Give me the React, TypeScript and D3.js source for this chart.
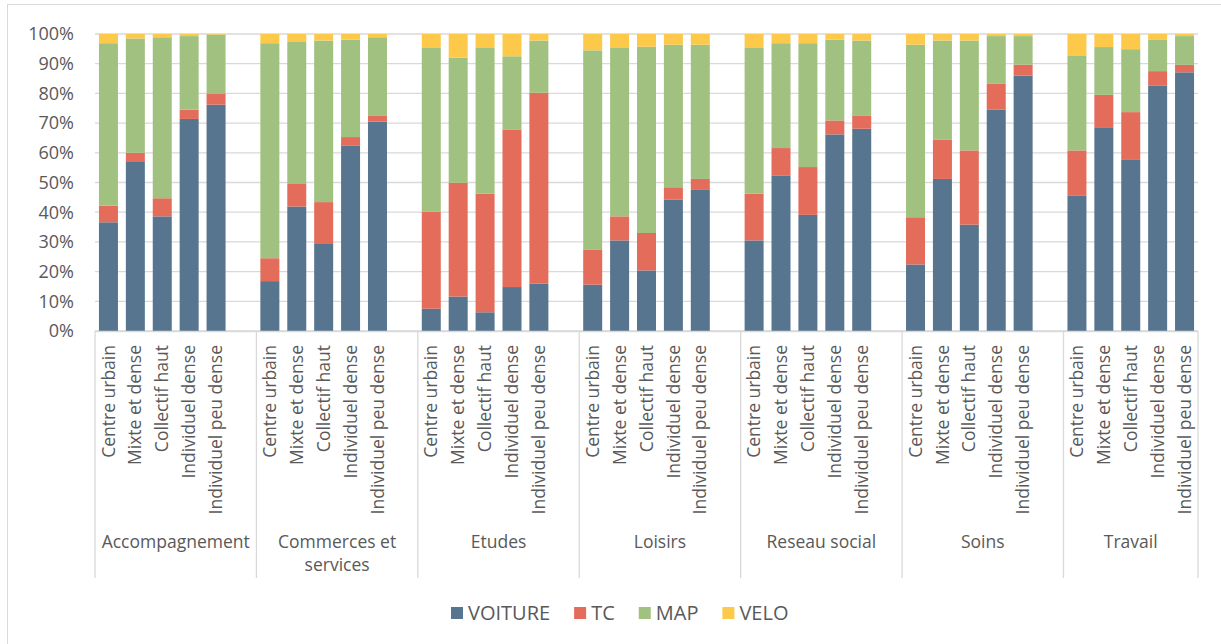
import React, { useEffect, useRef } from 'react';
import * as d3 from 'd3';

// motifs de déplacement (groupes) et types de tissu urbain
const groups = ['Accompagnement', 'Commerces et services', 'Etudes', 'Loisirs', 'Reseau social', 'Soins', 'Travail'];
const subcats = ['Centre urbain', 'Mixte et dense', 'Collectif haut', 'Individuel dense', 'Individuel peu dense'];
const seriesNames = ['VOITURE', 'TC', 'MAP', 'VELO'];
const yTicks = [0, 10, 20, 30, 40, 50, 60, 70, 80, 90, 100];

// parts modales en %, dans l'ordre groupe x sous-catégorie
const voiture = [36.6, 56.9, 38.6, 71.4, 76.2, 16.8, 41.9, 29.3, 62.5, 70.5, 7.5, 11.6, 6.3, 14.8, 16.0, 15.6, 30.5, 20.4, 44.3, 47.5, 30.5, 52.4, 39.1, 66.2, 68.1, 22.4, 51.2, 35.8, 74.6, 86.0, 45.5, 68.6, 57.6, 82.7, 87.1];
const tc = [5.6, 3.1, 6.1, 3.1, 3.6, 7.7, 7.6, 14.1, 2.8, 2.1, 32.7, 38.3, 39.9, 52.9, 64.2, 11.7, 8.1, 12.6, 4.1, 3.7, 15.7, 9.2, 16.1, 4.7, 4.5, 15.9, 13.3, 25.0, 8.6, 3.7, 15.3, 10.9, 16.1, 4.8, 2.5];
const map = [54.7, 38.5, 54.2, 24.8, 20.0, 72.4, 47.8, 54.4, 32.8, 26.3, 55.1, 42.1, 49.1, 24.8, 17.6, 67.2, 56.7, 62.7, 48.0, 45.2, 49.1, 35.3, 41.7, 27.2, 25.2, 58.1, 33.3, 37.0, 16.1, 9.6, 32.0, 16.1, 21.2, 10.5, 9.7];
const velo = [3.1, 1.5, 1.1, 0.7, 0.2, 3.1, 2.7, 2.2, 1.9, 1.1, 4.7, 8.0, 4.7, 7.5, 2.2, 5.5, 4.7, 4.3, 3.6, 3.6, 4.7, 3.1, 3.1, 1.9, 2.2, 3.6, 2.2, 2.2, 0.7, 0.7, 7.2, 4.4, 5.1, 2.0, 0.7];

const colors = ['#57758f', '#e36c5b', '#a1c180', '#fdc94b'];
const FONT = '"Open Sans", "Noto Sans", sans-serif';
const TXT = '#595959';
const GRID = '#d9d9d9';

interface Row {
  key: string;
  group: string;
  sub: string;
  VOITURE: number;
  TC: number;
  MAP: number;
  VELO: number;
}

const App: React.FC = () => {
  const ref = useRef<SVGSVGElement>(null);

  useEffect(() => {
    document.body.style.margin = '0';
    const svg = d3.select(ref.current);
    svg.selectAll('*').remove();

    const width = 1221;
    const height = 644;
    const left = 95, right = 1198, top = 34, bottom = 331;

    // slots: 5 barres par groupe + une case vide entre les groupes
    const rows: Row[] = [];
    const slots: string[] = [];
    groups.forEach((g, gi) => {
      subcats.forEach((s, si) => {
        const i = gi * subcats.length + si;
        const key = `${g}|${s}`;
        rows.push({ key, group: g, sub: s, VOITURE: voiture[i], TC: tc[i], MAP: map[i], VELO: velo[i] });
        slots.push(key);
      });
      if (gi < groups.length - 1) slots.push(`blank${gi}`);
    });

    const x = d3.scaleBand().domain(slots).range([left, right]).paddingInner(0.294).paddingOuter(0.147);
    const y = d3.scaleLinear().domain([0, 100]).range([bottom, top]);
    const step = x.step();
    const slotStart = (k: string) => (x(k) as number) - (step * x.paddingInner()) / 2;

    svg.append('rect').attr('width', width).attr('height', height).attr('fill', 'white');
    // cadre du graphique
    svg.append('rect').attr('x', 7.5).attr('y', 4.5).attr('width', width + 20).attr('height', height + 20)
      .attr('fill', 'none').attr('stroke', GRID).attr('stroke-width', 1);

    // grille
    svg.append('g').selectAll('line').data(yTicks).enter().append('line')
      .attr('x1', left).attr('x2', right)
      .attr('y1', d => y(d)).attr('y2', d => y(d))
      .attr('stroke', GRID).attr('stroke-width', 1.3);

    svg.append('g').selectAll('text').data(yTicks).enter().append('text')
      .attr('x', 74).attr('y', d => y(d)).attr('dy', '0.35em')
      .attr('text-anchor', 'end').attr('font-family', FONT).attr('font-size', 18).attr('fill', TXT)
      .text(d => `${d}%`);

    // barres empilées
    const stack = d3.stack<Row>().keys(seriesNames);
    const layers = stack(rows);
    svg.append('g').selectAll('g').data(layers).enter().append('g')
      .attr('fill', (_, i) => colors[i])
      .selectAll('rect').data(d => d).enter().append('rect')
      .attr('x', d => x(d.data.key) as number)
      .attr('width', x.bandwidth())
      .attr('y', d => y(d[1]))
      .attr('height', d => y(d[0]) - y(d[1]));

    // axe des catégories
    const axisBottom = 578;
    svg.append('line').attr('x1', left).attr('x2', right).attr('y1', bottom + 0.5).attr('y2', bottom + 0.5)
      .attr('stroke', GRID).attr('stroke-width', 1.3);

    const groupBounds = groups.map((g, gi) => {
      const x0 = slotStart(`${g}|${subcats[0]}`);
      const x1 = gi < groups.length - 1 ? slotStart(`${groups[gi + 1]}|${subcats[0]}`) : right;
      return { g, x0, x1 };
    });
    const seps = [left, ...groupBounds.slice(1).map(b => b.x0), right];
    svg.append('g').selectAll('line').data(seps).enter().append('line')
      .attr('x1', d => d).attr('x2', d => d).attr('y1', bottom).attr('y2', axisBottom)
      .attr('stroke', GRID).attr('stroke-width', 1.3);

    svg.append('g').selectAll('text').data(rows).enter().append('text')
      .attr('transform', d => `translate(${(x(d.key) as number) + x.bandwidth() / 2}, 345) rotate(-90)`)
      .attr('dy', '0.35em').attr('text-anchor', 'end')
      .attr('font-family', FONT).attr('font-size', 17.5).attr('fill', TXT)
      .text(d => d.sub);

    // libellés de groupe, avec retour à la ligne si trop long
    groupBounds.forEach(b => {
      const cx = (b.x0 + b.x1) / 2;
      const maxW = b.x1 - b.x0 - 10;
      const t = svg.append('text').attr('x', cx).attr('y', 548).attr('text-anchor', 'middle')
        .attr('font-family', FONT).attr('font-size', 17.5).attr('fill', TXT);
      const words = b.g.split(' ');
      let line: string[] = [];
      let tspan = t.append('tspan').attr('x', cx).attr('dy', 0);
      words.forEach(w => {
        line.push(w);
        tspan.text(line.join(' '));
        const node = tspan.node() as SVGTSpanElement;
        if (node.getComputedTextLength() > maxW && line.length > 1) {
          line.pop();
          tspan.text(line.join(' '));
          line = [w];
          tspan = t.append('tspan').attr('x', cx).attr('dy', 23).text(w);
        }
      });
    });

    // légende
    let lx = 451;
    const ly = 613;
    seriesNames.forEach((s, i) => {
      svg.append('rect').attr('x', lx).attr('y', ly - 6).attr('width', 12).attr('height', 12).attr('fill', colors[i]);
      const t = svg.append('text').attr('x', lx + 17).attr('y', ly).attr('dy', '0.35em')
        .attr('font-family', FONT).attr('font-size', 20).attr('fill', TXT).text(s);
      const w = (t.node() as SVGTextElement).getComputedTextLength();
      lx += 17 + w + 24;
    });
  }, []);

  return <svg ref={ref} width={1221} height={644} style={{ display: 'block' }} />;
};

export default App;
